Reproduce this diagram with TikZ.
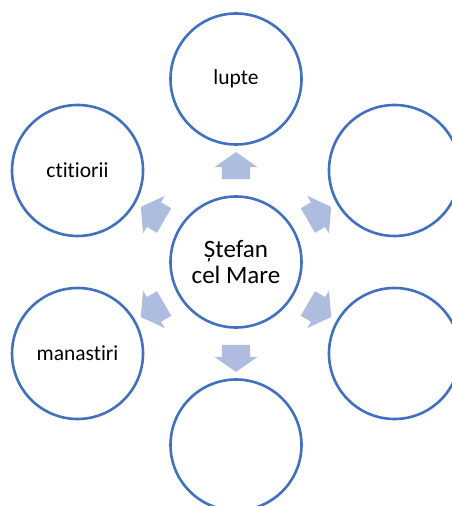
\documentclass[tikz,border=0pt]{standalone}
\usepackage{fontspec}
\setmainfont{Carlito}[Ligatures={NoCommon}]
\usetikzlibrary{calc,shapes.arrows}
\definecolor{ringblue}{HTML}{4170C0}
\definecolor{arrowblue}{HTML}{ADBCDF}
\tikzset{
  bubble/.style={circle,draw=ringblue,line width=2.6pt,fill=white,minimum size=131pt,
    inner sep=0pt,align=center,font=\fontsize{21.5}{26}\selectfont},
  blockarrow/.style={single arrow,fill=arrowblue,draw=none,minimum height=27pt,
    inner xsep=0pt,inner ysep=14pt,single arrow head extend=7.5pt,single arrow tip angle=110}
}
\begin{document}
\begin{tikzpicture}[x=1pt,y=1pt]
\useasboundingbox (0,0) rectangle (452,506);
\coordinate (O) at (236,244);
\node[bubble,font=\fontsize{25}{26}\selectfont] (stefan) at (O) {Ștefan\\cel Mare};
\node[bubble] (lupte) at ($(O)+(90:183)$) {lupte};
\node[bubble] (dreaptasus) at ($(O)+(30:183)$) {};
\node[bubble] (dreaptajos) at ($(O)+(-30:183)$) {};
\node[bubble] (jos) at ($(O)+(-90:183)$) {};
\node[bubble] (manastiri) at ($(O)+(-150:183)$) {manastiri};
\node[bubble] (ctitiorii) at ($(O)+(150:183)$) {ctitiorii};
\foreach \a in {90,30,-30,-90,-150,150}
  \node[blockarrow,rotate=\a] (sageata\a) at ($(O)+(\a:91.5)$) {};
\end{tikzpicture}
\end{document}
